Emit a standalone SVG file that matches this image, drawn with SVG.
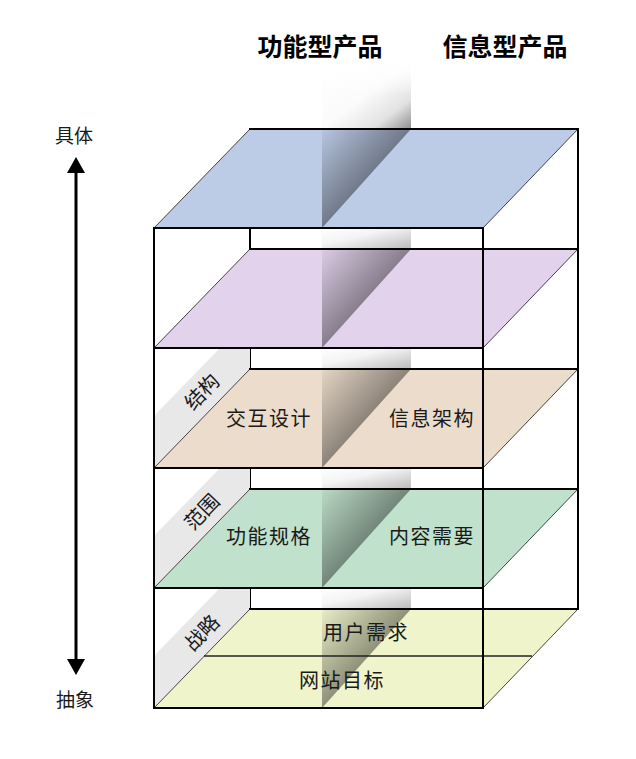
<svg xmlns="http://www.w3.org/2000/svg" width="636" height="759" viewBox="0 0 636 759">
<defs>
<linearGradient id="stripTop" x1="0" y1="0" x2="1" y2="1">
<stop offset="0" stop-color="#ffffff"/>
<stop offset="0.5" stop-color="#fbfbfb"/>
<stop offset="0.78" stop-color="#e2e2e2"/>
<stop offset="1" stop-color="#8f8f8f"/>
</linearGradient>
<linearGradient id="strip" x1="0" y1="0" x2="1" y2="1">
<stop offset="0" stop-color="#ffffff"/>
<stop offset="0.4" stop-color="#f4f4f4"/>
<stop offset="1" stop-color="#bcbcbc"/>
</linearGradient>
<linearGradient id="shade" x1="0" y1="0" x2="0.5" y2="0.5">
<stop offset="0" stop-color="#000" stop-opacity="0.03"/>
<stop offset="1" stop-color="#000" stop-opacity="0.4"/>
</linearGradient>
<linearGradient id="fadeTop" x1="0" y1="0" x2="0" y2="1">
<stop offset="0" stop-color="#fff" stop-opacity="1"/>
<stop offset="0.5" stop-color="#fff" stop-opacity="0.6"/>
<stop offset="1" stop-color="#fff" stop-opacity="0"/>
</linearGradient>
</defs>
<style>
.plane{stroke:#444;stroke-width:1}
.box{stroke:#000;stroke-width:2;fill:none;stroke-linecap:square}
.band{fill:#e8e8e8}
.tri{fill:url(#shade)}
.gap{fill:url(#strip)}
.t{font-family:"Noto Sans CJK SC","Noto Sans",sans-serif;font-size:20px;fill:#1a1a1a;text-anchor:middle;letter-spacing:1.5px}
.side{font-family:"Noto Sans CJK SC","Noto Sans",sans-serif;font-size:20px;fill:#1a1a1a;text-anchor:middle}
.title{font-family:"Noto Sans CJK SC","Noto Sans",sans-serif;font-size:25px;font-weight:bold;fill:#000;text-anchor:middle}
.axis{font-family:"Noto Sans CJK SC","Noto Sans",sans-serif;font-size:19px;fill:#1a1a1a;text-anchor:middle}
</style>
<rect width="636" height="759" fill="#fff"/>

<!-- top strip above surface -->
<g id="divider-top">
<rect x="322" y="60" width="89" height="69" fill="url(#stripTop)"/>
<rect x="322" y="60" width="89" height="35" fill="url(#fadeTop)"/>
</g>

<g id="titles">
<text class="title" x="320" y="56">功能型产品</text>
<text class="title" x="505" y="56">信息型产品</text>
</g>

<!-- back lines of box -->
<g id="box-back">
<line class="box" x1="250" y1="129" x2="250" y2="609"/>
<line class="box" x1="578" y1="129" x2="578" y2="609"/>
</g>

<!-- gap strips -->
<g id="gaps">
<rect class="gap" x="322" y="228" width="89" height="21"/>
<rect class="gap" x="322" y="348" width="89" height="21"/>
<rect class="gap" x="322" y="468" width="89" height="21"/>
<rect class="gap" x="322" y="588" width="89" height="21"/>
</g>

<g id="layer-surface">
<polygon class="plane" points="154,228 250,129 578,129 483,228" fill="#bccbe6"/>
<polygon class="tri" points="322,129 411,129 322,228"/>
<line class="box" x1="250" y1="129" x2="578" y2="129"/>
</g>

<g id="layer-skeleton">
<polygon class="plane" points="154,348 250,249 578,249 483,348" fill="#e2d2eb"/>
<polygon class="tri" points="322,249 411,249 322,348"/>
<line class="box" x1="250" y1="249" x2="578" y2="249"/>
</g>

<g id="layer-structure">
<polygon class="band" points="220,348 250,348 250,369 154,468 154,416"/>
<polygon class="plane" points="154,468 250,369 578,369 483,468" fill="#ebdccb"/>
<polygon class="tri" points="322,369 411,369 322,468"/>
<line class="box" x1="250" y1="369" x2="578" y2="369"/>
<text class="side" transform="translate(202,392) rotate(-46)" x="0" y="7">结构</text>
<text class="t" x="269" y="426">交互设计</text>
<text class="t" x="432" y="426">信息架构</text>
</g>

<g id="layer-scope">
<polygon class="band" points="220,468 250,468 250,489 154,588 154,536"/>
<polygon class="plane" points="154,588 250,489 578,489 483,588" fill="#c0e1cb"/>
<polygon class="tri" points="322,489 411,489 322,588"/>
<line class="box" x1="250" y1="489" x2="578" y2="489"/>
<text class="side" transform="translate(202,512) rotate(-46)" x="0" y="7">范围</text>
<text class="t" x="269" y="544">功能规格</text>
<text class="t" x="432" y="544">内容需要</text>
</g>

<g id="layer-strategy">
<polygon class="band" points="220,588 250,588 250,609 154,708 154,656"/>
<polygon class="plane" points="154,708 250,609 578,609 483,708" fill="#eff4cb"/>
<polygon class="tri" points="322,609 411,609 322,708"/>
<line x1="204" y1="656" x2="532" y2="656" stroke="#222" stroke-width="1.3"/>
<line class="box" x1="250" y1="609" x2="578" y2="609"/>
<text class="side" transform="translate(202,633) rotate(-46)" x="0" y="7">战略</text>
<text class="t" x="366" y="640">用户需求</text>
<text class="t" x="342" y="688">网站目标</text>
</g>

<g id="box-front">
<line class="box" x1="154" y1="228" x2="154" y2="708"/>
<line class="box" x1="483" y1="228" x2="483" y2="708"/>
<line class="box" x1="154" y1="228" x2="483" y2="228"/>
<line class="box" x1="154" y1="348" x2="483" y2="348"/>
<line class="box" x1="154" y1="468" x2="483" y2="468"/>
<line class="box" x1="154" y1="588" x2="483" y2="588"/>
<line class="box" x1="154" y1="708" x2="483" y2="708"/>
</g>

<g id="axis-labels">
<text class="axis" x="74" y="143">具体</text>
<text class="axis" x="75" y="707">抽象</text>
</g>

<g id="connectors">
<line x1="76" y1="170" x2="76" y2="662" stroke="#000" stroke-width="3"/>
<polygon points="76,157 67,173 85,173" fill="#000"/>
<polygon points="67,659 85,659 76,675" fill="#000"/>
</g>
</svg>
